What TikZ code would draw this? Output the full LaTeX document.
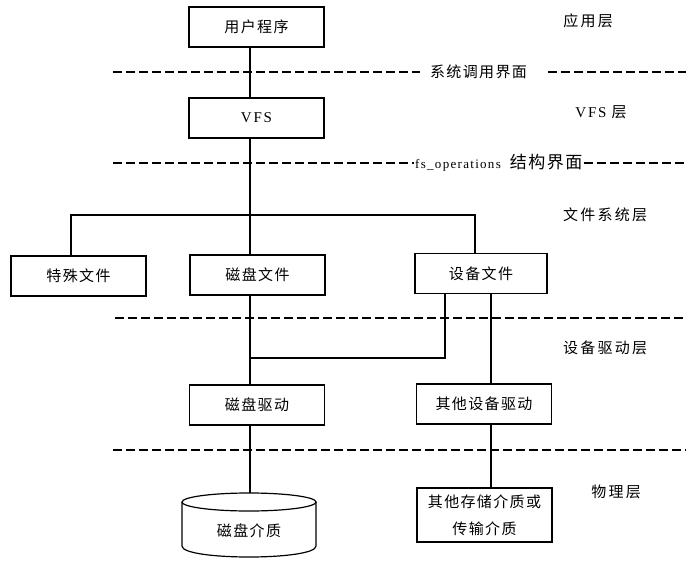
\documentclass[tikz,border=0pt]{standalone}
\usepackage{fontspec}
\setmainfont{Liberation Serif}
\newfontfamily\cjk[LetterSpace=9]{Noto Sans CJK SC}
\newfontfamily\cjkw[LetterSpace=15]{Noto Sans CJK SC}
\newfontfamily\latsp[LetterSpace=12]{Liberation Serif}
\newfontfamily\latops[LetterSpace=10]{Liberation Serif}
\begin{document}
\begin{tikzpicture}[x=1pt,y=-1pt,
  box/.style={draw, line width=1.3pt, minimum width=135pt, minimum height=40pt, inner sep=0pt, font=\cjk\fontsize{15}{17}\selectfont},
  lbl/.style={inner sep=0pt, font=\cjkw\fontsize{15}{17}\selectfont},
  link/.style={line width=1.2pt},
  sep/.style={line width=1.2pt, dash pattern=on 9pt off 4pt}]
\useasboundingbox (0,0) rectangle (696,567);
\fill[white] (0,0) rectangle (696,567);

% boxes
\node[box] (u) at (256.5,27) {用户程序};
\node[box] (vfs) at (256.5,118) {\latsp VFS};
\node[box] (tsw) at (78.5,276) {特殊文件};
\node[box] (cpw) at (257.5,275) {磁盘文件};
\node[box, minimum width=132pt] (sbw) at (481,273.5) {设备文件};
\node[box] (cpq) at (257,405) {磁盘驱动};
\node[box] (qsq) at (484,404) {其他设备驱动};
\node[box, minimum height=54pt, align=center, font=\cjk\fontsize{15}{27}\selectfont] (qcz) at (484.5,515) {其他存储介质或\\传输介质};

% cylinder
\draw[link] (249,502) ellipse [x radius=67pt, y radius=9pt];
\draw[link] (182,502) -- (182,546) .. controls (182,560.67) and (316,560.67) .. (316,546) -- (316,502);
\node[lbl, font=\cjk\fontsize{15}{17}\selectfont] (disk) at (249,531) {磁盘介质};
\coordinate (disktop) at (250,493);

% layer labels
\node[lbl] (l1) at (588,21) {应用层};
\node[lbl] (l2) at (601,112) {{\latsp VFS}\hspace{5pt}层};
\node[lbl] (l3) at (605,215) {文件系统层};
\node[lbl] (l4) at (605,348) {设备驱动层};
\node[lbl] (l5) at (616,492) {物理层};

% interface labels
\node[lbl, font=\cjk\fontsize{15}{17}\selectfont] (i1) at (478.5,72) {系统调用界面};
\node[lbl, anchor=west] (i2) at (415,163) {{\latops\fontsize{13}{15}\selectfont fs\_operations}\hspace{9pt}{\cjk\fontsize{17}{19}\selectfont 结构界面}};

% separators
\draw[sep] (113,72) -- ([xshift=-10pt]i1.west);
\draw[sep] ([xshift=21pt]i1.east) -- (686,72);
\draw[sep] (113,163) -- ([xshift=-1pt]i2.west);
\draw[sep] ([xshift=1pt]i2.east) -- (686,163);
\draw[sep] (115,318) -- (686,318);
\draw[sep] (113,450) -- (686,450);

% connector helpers
\coordinate (cx) at (250,0);
\coordinate (dx) at (491,0);
\coordinate (ex) at (445,0);
\coordinate (ax) at (71,0);
\coordinate (fx) at (475,0);
\coordinate (bus) at (0,215);
\coordinate (jn) at (0,358);

% connectors
\draw[link] (u.south -| cx) -- (vfs.north -| cx);
\draw[link] (vfs.south -| cx) -- (cpw.north -| cx);
\draw[link] (tsw.north -| ax) -- (bus -| ax) -- (bus -| fx) -- (sbw.north -| fx);
\draw[link] (cpw.south -| cx) -- (cpq.north -| cx);
\draw[link] (sbw.south -| ex) -- (jn -| ex) -- (jn -| cx);
\draw[link] (sbw.south -| dx) -- (qsq.north -| dx);
\draw[link] (cpq.south -| cx) -- (disktop);
\draw[link] (qsq.south -| dx) -- (qcz.north -| dx);
\end{tikzpicture}
\end{document}
